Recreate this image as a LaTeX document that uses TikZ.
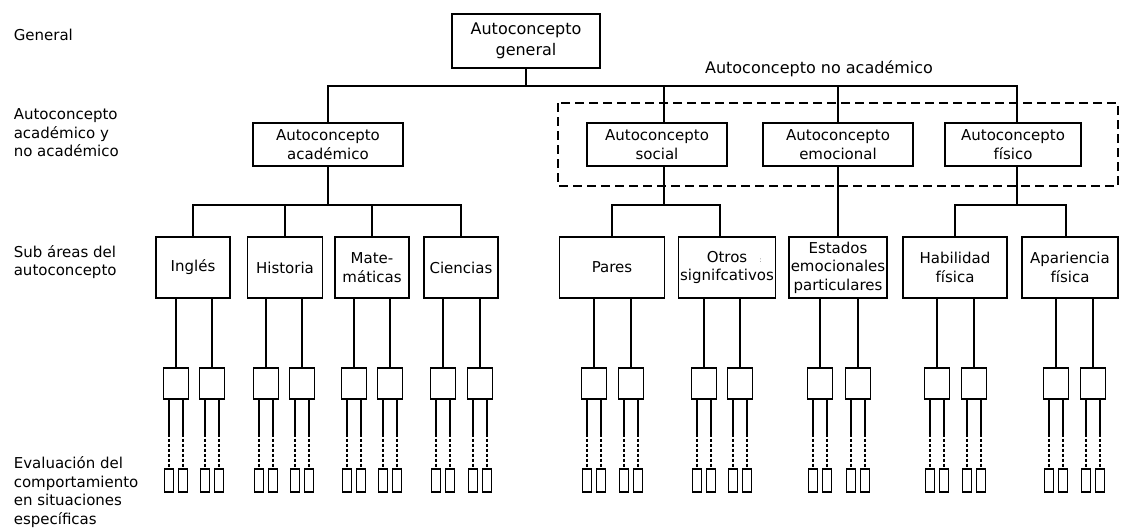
\documentclass[tikz,border=0pt]{standalone}
\usepackage{fontspec}
\setmainfont{DejaVu Sans}

\begin{document}
\begin{tikzpicture}[x=1pt,y=-1pt,line width=1.6pt,
    caja/.style={draw, inner sep=0pt, align=center, font=\fontsize{15}{18.5}\selectfont},
    area/.style={caja, minimum height=61pt},
    rotulo/.style={anchor=west, align=left, inner sep=0pt, font=\fontsize{15}{18.5}\selectfont},
    cuadro/.style={draw, line width=1.3pt, minimum width=25pt, minimum height=31pt, inner sep=0pt},
    barra/.style={draw, line width=1.3pt, minimum width=9pt, minimum height=23pt, inner sep=0pt},
    fino/.style={line width=1.3pt},
    punteado/.style={line width=1.3pt, dash pattern=on 3pt off 2pt}]
    \useasboundingbox (0,0) rectangle (1121,528);

    % niveles
    \node[rotulo] (lgen)  at (13,35)  {General};
    \node[rotulo] (lacad) at (13,133) {Autoconcepto\\académico y\\no académico};
    \node[rotulo] (lsub)  at (13,262) {Sub áreas del\\autoconcepto};
    \node[rotulo] (leval) at (13,492) {Evaluación del\\comportamiento\\en situaciones\\específicas};

    \node[caja, minimum width=148pt, minimum height=54pt, font=\fontsize{16}{21}\selectfont] at (526,41) (gen) {Autoconcepto\\general};
    \node[font=\fontsize{16}{20}\selectfont, inner sep=0pt] at (819,69) (noacad) {Autoconcepto no académico};
    \node[caja, minimum width=150pt, minimum height=43pt] at (328,144.5)  (acad) {Autoconcepto\\académico};
    \node[caja, minimum width=140pt, minimum height=43pt] at (657,144.5)  (soc)  {Autoconcepto\\social};
    \node[caja, minimum width=150pt, minimum height=43pt] at (838,144.5)  (emo)  {Autoconcepto\\emocional};
    \node[caja, minimum width=136pt, minimum height=43pt] at (1013,144.5) (fis)  {Autoconcepto\\físico};
    \draw[line width=1.5pt, dash pattern=on 9pt off 5pt] (558,103) rectangle (1118,186);

    \node[area, minimum width=74pt]  at (193,267.5)  (ing) {Inglés};
    \node[area, minimum width=75pt]  at (285,267.5)  (his) {Historia};
    \node[area, minimum width=74pt]  at (372,267.5)  (mat) {Mate-\\máticas};
    \node[area, minimum width=74pt]  at (461,267.5)  (cie) {Ciencias};
    \node[area, minimum width=105pt] at (612,267.5)  (par) {Pares};
    \node[area, minimum width=97pt]  at (727,267.5)  (otr) {Otros\rlap{\hspace{12pt}\textcolor{gray}{\scriptsize:}}\\signifcativos};
    \node[area, minimum width=98pt]  at (838,267.5)  (est) {Estados\\emocionales\\particulares};
    \node[area, minimum width=104pt] at (955,267.5)  (hab) {Habilidad\\física};
    \node[area, minimum width=96pt]  at (1070,267.5) (apa) {Apariencia\\física};

    \coordinate (bus) at (0,86);
    \coordinate (sub) at (0,205);

    \draw (gen) -- (gen |- bus);
    \draw (acad.north) |- ([xshift=4pt]fis.north |- bus) -- ([xshift=4pt]fis.north);
    \draw ([xshift=7pt]soc.north) -- ([xshift=7pt]soc.north |- bus);
    \draw (emo.north) -- (emo.north |- bus);

    \draw (acad.south) -- (acad.south |- sub);
    \draw (ing.north) |- (cie.north |- sub) -- (cie.north);
    \draw (his.north) -- (his.north |- sub);
    \draw (mat.north) -- (mat.north |- sub);
    \draw ([xshift=7pt]soc.south) -- ([xshift=7pt]soc.south |- sub);
    \draw (par.north) |- ([xshift=-7pt]otr.north |- sub) -- ([xshift=-7pt]otr.north);
    \draw (emo.south) -- (est.north);
    \draw ([xshift=4pt]fis.south) -- ([xshift=4pt]fis.south |- sub);
    \draw (hab.north) |- ([xshift=-4pt]apa.north |- sub) -- ([xshift=-4pt]apa.north);

    % situaciones especificas
    \foreach \cx/\padre in {176/ing,212/ing,266/his,302/his,354/mat,390/mat,443/cie,480/cie,
                           594/par,631/par,704/otr,740/otr,820/est,858/est,937/hab,974/hab,1056/apa,1093/apa}{
        \node[cuadro] at (\cx,383.5) (c\cx) {};
        \draw[fino] (\padre.south -| c\cx) -- (c\cx);
        \foreach \dx/\lado in {-7/a,7/b}{
            \node[barra] at (\cx+\dx,480.5) (b\cx\lado) {};
            \draw[fino] ([xshift=\dx pt]c\cx.south) -- ++(0,34) coordinate (m\cx\lado);
            \draw[punteado] (m\cx\lado) -- (b\cx\lado);
        }
    }
\end{tikzpicture}
\end{document}
